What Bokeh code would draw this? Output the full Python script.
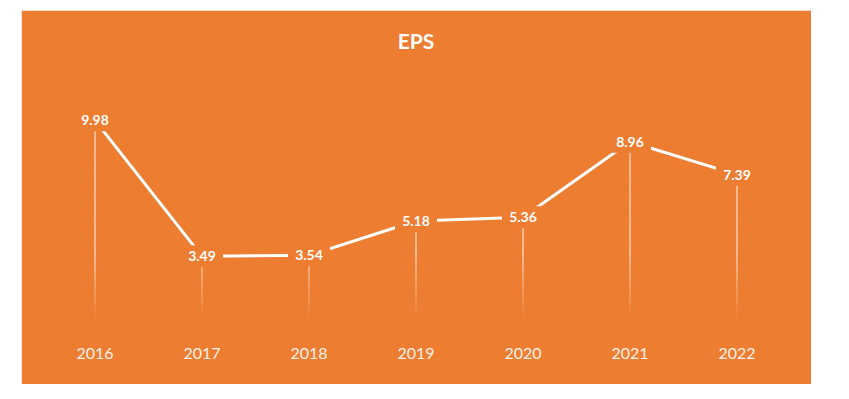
from bokeh.plotting import figure
from bokeh.models import ColumnDataSource, LabelSet, Label, Range1d, FixedTicker
from bokeh.embed import file_html
from bokeh.resources import INLINE
from bokeh.core.properties import value
import numpy as np

years = ["2016", "2017", "2018", "2019", "2020", "2021", "2022"]
eps = [9.98, 3.49, 3.54, 5.18, 5.36, 8.96, 7.39]
title_text = "EPS"

ORANGE = "#ED7D31"
xs = list(range(len(years)))

p = figure(width=790, height=374, output_backend="svg", toolbar_location=None,
           x_range=Range1d(-0.5, len(years) - 0.5), y_range=Range1d(0, 15.08),
           min_border_left=20, min_border_right=21, min_border_top=3, min_border_bottom=55)
p.margin = (10, 0, 0, 21)
p.background_fill_color = ORANGE
p.border_fill_color = ORANGE
p.outline_line_color = ORANGE
p.outline_line_width = 3
p.xgrid.visible = False
p.ygrid.visible = False
p.yaxis.visible = False

ax = p.xaxis[0]
ax.ticker = FixedTicker(ticks=xs)
ax.major_label_overrides = {i: y for i, y in enumerate(years)}
ax.axis_line_color = None
ax.major_tick_line_color = None
ax.minor_tick_line_color = None
ax.major_tick_out = 0
ax.major_tick_in = 0
ax.major_label_standoff = 18
ax.major_label_text_color = "#fdf1e8"
ax.major_label_text_font = "Lato"
ax.major_label_text_font_size = "16px"

# fading drop lines
x0, y0, y1, al = [], [], [], []
step = 0.1
for x, v in zip(xs, eps):
    n = int(np.floor(v / step))
    for k in range(n + 1):
        a = k * step
        b = min(v, a + step)
        if b <= a:
            continue
        x0.append(x); y0.append(a); y1.append(b)
        al.append(float(np.clip((a - 0.35) / 3.2, 0, 1)) * 0.95)
p.segment(x0=x0, y0=y0, x1=x0, y1=y1, line_color="white", line_width=1, line_alpha=al)

src = ColumnDataSource(dict(x=xs, y=eps, t=[f"{v:.2f}" for v in eps]))
p.line("x", "y", source=src, line_color="white", line_width=3)
p.rect("x", "y", width=42, height=22, width_units="screen", height_units="screen",
       source=src, fill_color=ORANGE, line_color=None)

labels = LabelSet(x="x", y="y", text="t", source=src, text_align="center", text_baseline="middle",
                  text_color="white", text_font=value("Lato"), text_font_style="bold",
                  text_font_size="14px")
p.add_layout(labels)

p.add_layout(Label(x=(len(years) - 1) / 2, y=13.8, text=title_text, text_align="center",
                   text_baseline="middle", text_color="white", text_font="Lato",
                   text_font_style="bold", text_font_size="21px"))

open("out.html", "w").write(file_html(p, INLINE))
